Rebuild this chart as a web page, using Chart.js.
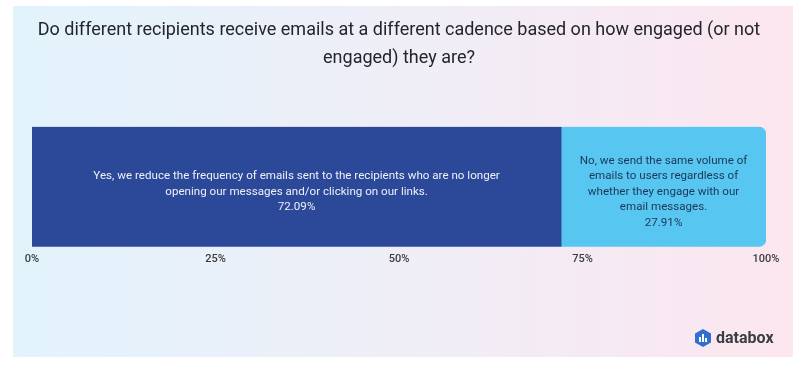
<!DOCTYPE html>
<html>
<head>
<meta charset="utf-8">
<script src="https://cdn.jsdelivr.net/npm/chart.js@4"></script>
<style>
  html, body { margin:0; padding:0; background:#fff; }
  #wrap { position:relative; width:807px; height:367px; }
  #panel { position:absolute; left:13px; top:6px; width:780px; height:351px;
    background:linear-gradient(90deg, #e2f3fc 0%, #efeef7 50%, #fce6ef 100%); }
  #chart { position:absolute; left:0; top:0; }
  #brand { position:absolute; left:695px; top:328px; display:flex; align-items:center;
    font-family:Roboto, sans-serif; font-weight:700; font-size:16px; color:#3a3d44; }
  #brand svg { margin-right:5px; }
</style>
</head>
<body>
<div id="wrap">
  <div id="panel"></div>
  <canvas id="chart" width="807" height="367"></canvas>
  <div id="brand">
    <svg width="16" height="18" viewBox="0 0 16 18">
      <polygon points="8,0 16,4.5 16,13.5 8,18 0,13.5 0,4.5" fill="#2f6fd0"/>
      <rect x="4" y="8" width="2" height="5" fill="#fff"/>
      <rect x="7" y="5" width="2" height="8" fill="#fff"/>
      <rect x="10" y="9" width="2" height="4" fill="#fff"/>
    </svg>databox
  </div>
</div>
<script>
'use strict';

// ---- Données ----
const TITLE = ['Do different recipients receive emails at a different cadence based on how engaged (or not', 'engaged) they are?'];
const categories = ['Cadence'];
const answers = ['Yes', 'No'];
const shares = [72.09, 27.91];
const answerLines = [
  ['Yes, we reduce the frequency of emails sent to the recipients who are no longer', 'opening our messages and/or clicking on our links.'],
  ['No, we send the same volume of', 'emails to users regardless of', 'whether they engage with our', 'email messages.']
];
const barColors = ['#2c4899', '#57c7f1'];
const textColors = ['#eef1f8', '#1d3556'];
const tickValues = [0, 25, 50, 75, 100];

// ---- Étiquettes dans les barres ----
const barLabels = {
  id: 'barLabels',
  afterDatasetsDraw(chart) {
    const ctx = chart.ctx;
    ctx.save();
    ctx.font = "11.6px Roboto, sans-serif";
    ctx.textAlign = 'center';
    ctx.textBaseline = 'middle';
    chart.data.datasets.forEach((ds, i) => {
      const el = chart.getDatasetMeta(i).data[0];
      const lines = [...answerLines[i], shares[i].toFixed(2) + '%'];
      const cx = (el.x + el.base) / 2, lh = 15.5;
      const y0 = el.y + 5 - (lines.length - 1) * lh / 2;
      ctx.fillStyle = textColors[i];
      lines.forEach((t, k) => ctx.fillText(t, cx, y0 + k * lh));
    });
    ctx.restore();
  }
};

new Chart(document.getElementById('chart').getContext('2d'), {
  type: 'bar',
  data: {
    labels: categories,
    datasets: answers.map((a, i) => ({
      label: a, data: [shares[i]], backgroundColor: barColors[i],
      barPercentage: 1, categoryPercentage: 1, borderWidth: 0,
      borderRadius: i === answers.length - 1 ? { topLeft:0, bottomLeft:0, topRight:8, bottomRight:8 } : 0,
      borderSkipped: false
    }))
  },
  options: {
    indexAxis: 'y', responsive: false, animation: false,
    layout: { padding: { left:32, right:41, top:0, bottom:103 } },
    plugins: {
      legend: { display:false }, tooltip: { enabled:false },
      title: { display:true, text:TITLE, color:'#23252b',
        font:{ family:'Roboto, sans-serif', size:18, weight:'normal', lineHeight:1.55 },
        padding:{ top:17, bottom:54 } }
    },
    scales: {
      x: { stacked:true, min:0, max:100, grid:{ display:false }, border:{ display:false },
        afterBuildTicks: s => { s.ticks = tickValues.map(v => ({ value:v })); },
        ticks: { padding:-2, color:'#3c3c3c', font:{ family:'Roboto, sans-serif', size:11, weight:'500' }, callback: v => v + '%' } },
      y: { stacked:true, display:false }
    }
  },
  plugins: [barLabels]
});
</script>
</body>
</html>
